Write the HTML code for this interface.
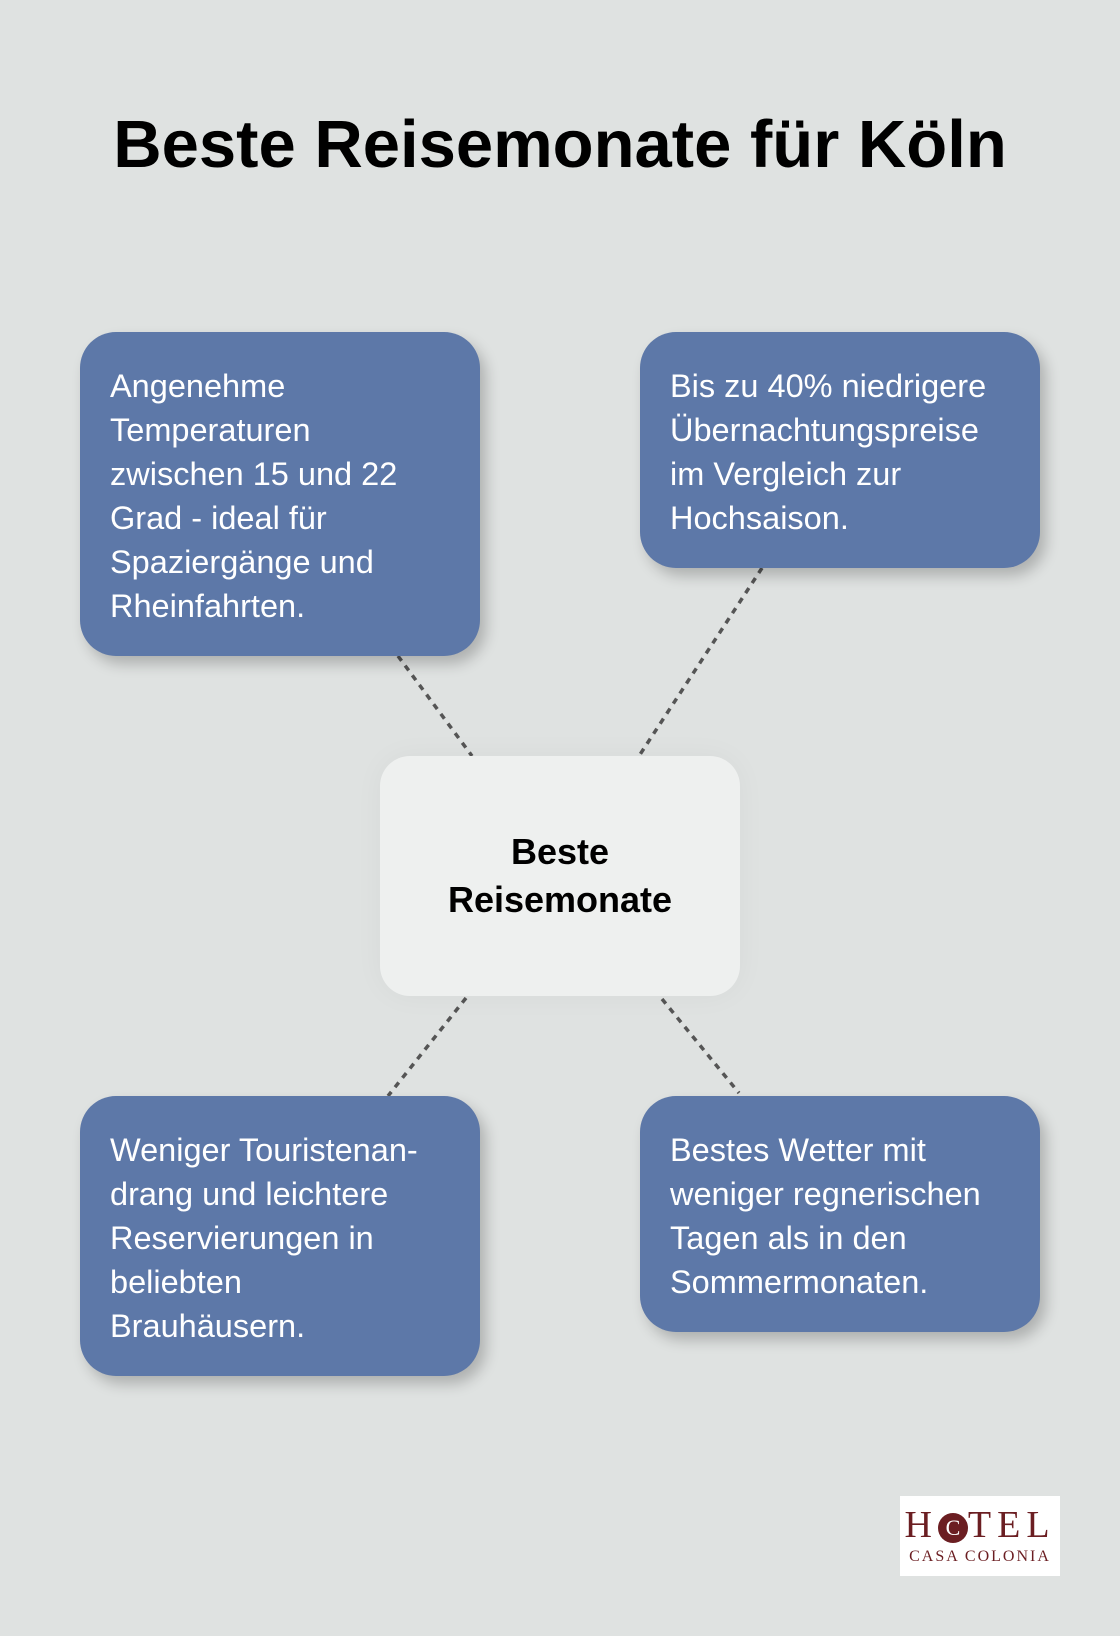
<!DOCTYPE html>
<html><head><meta charset="utf-8"><style>
body{margin:0;width:1120px;height:1636px;background:#dfe2e1;position:relative;overflow:hidden;font-family:"Liberation Sans",Arial,sans-serif}
h1{position:absolute;left:0;width:1120px;top:106px;margin:0;text-align:center;font-size:67px;font-weight:bold;color:#000}
.b{position:absolute;background:#5d78a8;border-radius:36px;color:#fff;font-size:32.5px;line-height:44px;box-sizing:border-box;padding:32px 20px 0 30px;box-shadow:6px 8px 14px rgba(0,0,0,.22)}
.c{position:absolute;left:380px;top:756px;width:360px;height:240px;background:#eef0ef;border-radius:30px;display:flex;align-items:center;justify-content:center;text-align:center;font-weight:bold;font-size:36px;line-height:48px;color:#000;box-shadow:0 0 30px rgba(0,0,0,.04)}
</style></head><body>
<h1>Beste Reisemonate für Köln</h1>
<svg width="1120" height="1636" style="position:absolute;left:0;top:0">
<g stroke="#555" stroke-width="3.5" stroke-dasharray="6 6">
<line x1="398" y1="656" x2="472" y2="756"/>
<line x1="762" y1="568" x2="639" y2="756"/>
<line x1="466" y1="998" x2="388" y2="1096"/>
<line x1="662" y1="999" x2="739" y2="1093"/>
</g></svg>
<div class="b" style="left:80px;top:332px;width:400px;height:324px">Angenehme<br>Temperaturen<br>zwischen 15 und 22<br>Grad - ideal für<br>Spaziergänge und<br>Rheinfahrten.</div>
<div class="b" style="left:640px;top:332px;width:400px;height:236px">Bis zu 40% niedrigere<br>Übernachtungspreise<br>im Vergleich zur<br>Hochsaison.</div>
<div class="b" style="left:80px;top:1096px;width:400px;height:280px">Weniger Touristenan-<br>drang und leichtere<br>Reservierungen in<br>beliebten<br>Brauhäusern.</div>
<div class="b" style="left:640px;top:1096px;width:400px;height:236px">Bestes Wetter mit<br>weniger regnerischen<br>Tagen als in den<br>Sommermonaten.</div>
<div class="c">Beste<br>Reisemonate</div>
<div style="position:absolute;left:900px;top:1496px;width:160px;height:80px;background:#fff;color:#6b1e22;font-family:'Liberation Serif',serif;text-align:center">
<div style="font-size:38px;letter-spacing:6px;margin-top:10px;line-height:38px">H<span style="display:inline-block;width:30px;height:30px;border-radius:50%;background:#6b1e22;color:#fff;font-size:22px;line-height:30px;letter-spacing:0;vertical-align:2px">C</span>TEL</div>
<div style="font-size:16px;letter-spacing:2px;margin-top:4px">CASA COLONIA</div>
</div>
</body></html>
